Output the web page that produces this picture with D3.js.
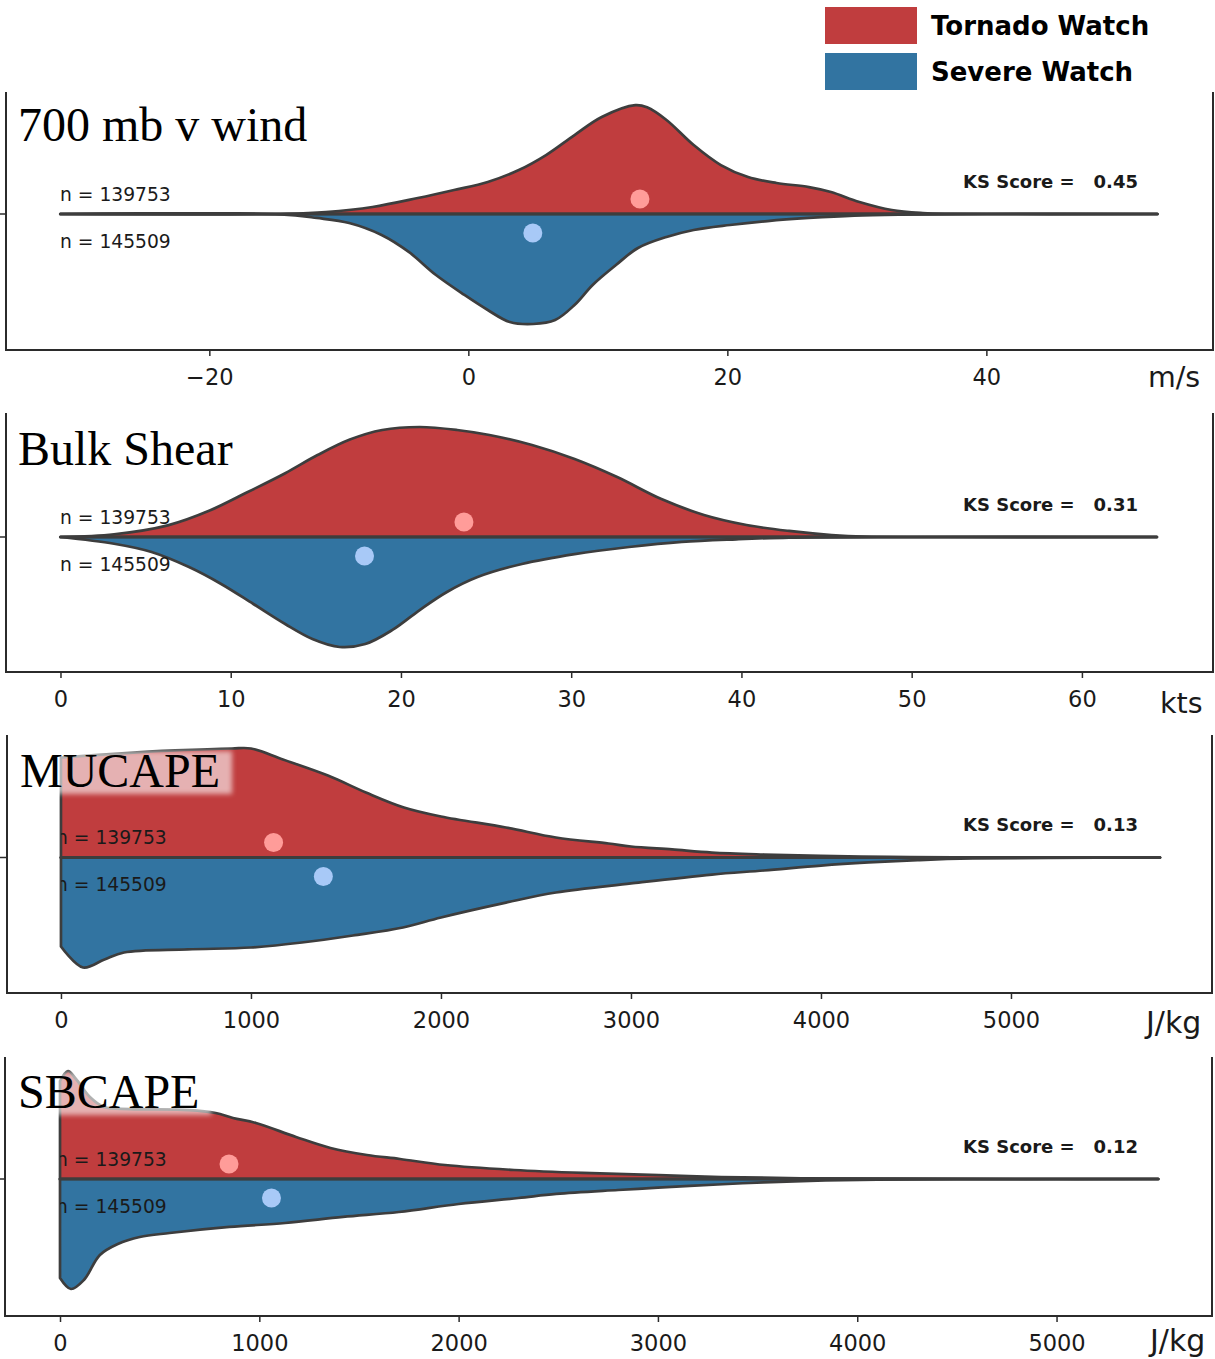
<!DOCTYPE html>
<html>
<head>
<meta charset="utf-8">
<script src="https://cdn.jsdelivr.net/npm/d3@7"></script>
<style>
  body { margin: 0; background: #fff; }
  svg { display: block; }
  text { font-family: "DejaVu Sans", sans-serif; fill: #1a1a1a; }
</style>
</head>
<body>
<svg id="chart" width="1215" height="1359"></svg>
<script>
// ---- values ----
var panelTitles = ['700 mb v wind', 'Bulk Shear', 'MUCAPE', 'SBCAPE'];
var unitLabels = ['m/s', 'kts', 'J/kg', 'J/kg'];
var groupNames = ['Tornado Watch', 'Severe Watch'];
var groupCounts = [139753, 145509];
var ksScores = ['0.45', '0.31', '0.13', '0.12'];
var tickValues = [
    [-20, 0, 20, 40],
    [0, 10, 20, 30, 40, 50, 60],
    [0, 1000, 2000, 3000, 4000, 5000],
    [0, 1000, 2000, 3000, 4000, 5000]
];
var axisLimits = [[-35.7, 57.5], [-3.2, 67.7], [-284, 6058], [-276, 5780]];
var tornadoMeans = [13.25, 23.7, 1119, 848];
var severeMeans = [4.98, 17.86, 1381, 1061];

// relative density (percent of the panel's widest point), [value, density]
var windTornado = [[-31.5,0],[-14,0.2],[-11,1.8],[-7.4,6.4],[-3.9,14.5],[-1.1,21.8],[1.5,29.1],[3.9,40],
    [6,53.6],[8.2,71.8],[10.3,88.2],[12.9,99],[13.8,97],[15.3,85.5],[17.4,62.7],[19.5,44.5],[21.6,33.6],
    [23.8,28.2],[26.3,24.5],[28,20],[30.2,10.9],[32.7,3.6],[35.1,0.9],[37,0.2],[53.2,0]];
var windSevere = [[-31.5,0],[-14.5,0.3],[-11.7,3.6],[-9.2,8.2],[-6.7,19.1],[-4.6,34.5],[-2.5,55.5],[-0.3,73.6],
    [1.5,87.3],[3.2,98.2],[5,100],[6.7,96.4],[8.2,82.7],[9.6,64.5],[11.4,46.4],[13.1,30.9],[15.3,20.9],
    [17.4,14.5],[20.2,10],[23.1,6.4],[26.3,3.6],[29.8,1.4],[33.4,0.5],[40,0],[53.2,0]];
var shearTornado = [[0,0],[3.15,2.5],[6.3,10.6],[8.8,24.3],[11,40.9],[13.2,58],[15.1,74.5],[17,88.6],
    [18.9,97.3],[21.1,100],[23.3,97.3],[25.2,92.7],[27.7,83.6],[30.2,70.9],[32.7,54.5],[35.3,34.5],
    [37.8,20],[40.3,10.9],[42.8,5.5],[45.3,1.8],[47.2,0.3],[52,0],[64.4,0]];
var shearSevere = [[0,0],[3.15,6.1],[5.35,13.6],[7.55,27.3],[9.44,42.7],[11.33,60.9],[13.2,79.1],[14.8,92.7],
    [16.4,100],[17.9,97.3],[19.5,84.5],[21.1,66.4],[22.7,50],[24.5,36.4],[27.1,24.5],[30.2,15.5],
    [33.4,9.1],[36.5,4.5],[39.7,2.1],[42.8,0.5],[48,0],[64.4,0]];
var mucapeTornado = [[0,90.9],[300,94.5],[600,97.3],[900,99.1],[1000,99.1],[1168,89.1],[1405,74.5],[1605,59.1],
    [1805,45.5],[2000,37.3],[2342,27.3],[2605,18.2],[2882,12.7],[3000,10],[3216,7.3],[3426,4.5],
    [3700,2.7],[4000,1.4],[4358,0.5],[4700,0.1],[5784,0]];
var mucapeSevere = [[0,80.9],[116,100],[229,92.7],[332,86.4],[666,83.6],[1000,81.8],[1268,77.3],[1537,70.9],
    [1800,63.6],[2000,54.5],[2342,41],[2605,31.8],[3000,23.6],[3426,15.5],[3700,11.8],[4000,7.3],
    [4250,4.5],[4520,2.3],[4800,0.9],[5200,0.3],[5784,0]];
var sbcapeTornado = [[0,89],[40,98.2],[80,90.9],[150,74.5],[220,65.5],[350,63.6],[650,62.7],[781,60],
    [868,55.5],[983,50.9],[1184,38.2],[1357,28.2],[1540,21.8],[1706,18.2],[1932,12.7],[2278,8.2],
    [2624,5.5],[3005,3.6],[3317,1.8],[3718,0.7],[4215,0.3],[4800,0],[5510,0]];
var sbcapeSevere = [[0,90],[55,100],[120,91.8],[200,69.1],[290,59.1],[400,52.7],[550,49.1],[850,43.6],
    [1130,40],[1420,34.5],[1700,30],[2000,22.7],[2300,17.3],[2490,13.6],[2800,10],[3000,7.9],
    [3300,5],[3530,3],[3800,1.4],[4100,0.5],[4500,0.2],[5000,0],[5510,0]];

var tornadoDensity = [windTornado, shearTornado, mucapeTornado, sbcapeTornado];
var severeDensity = [windSevere, shearSevere, mucapeSevere, sbcapeSevere];

// ---- layout ----
var colors = ['#c03d3e', '#3274a1'];
var meanColors = ['#ff9c99', '#a8c9f7'];
var edge = '#3d3d3d';

// each panel was cropped a little differently in the original figure
var panels = [
    {left: 6, right: 1213, top: 92,  bottom: 350,  center: 214,   titleX: 18, titleY: 141,  nX: 60, nClip: 0,  unitX: 1148, unitDy: 27, unitSize: 28.5},
    {left: 6, right: 1213, top: 413, bottom: 672,  center: 537,   titleX: 18, titleY: 465,  nX: 60, nClip: 0,  unitX: 1160, unitDy: 31, unitSize: 28.5},
    {left: 7, right: 1212, top: 735, bottom: 993,  center: 857.5, titleX: 20, titleY: 787,  nX: 56, nClip: 61, unitX: 1146, unitDy: 29, unitSize: 30},
    {left: 5, right: 1212, top: 1057, bottom: 1316, center: 1179, titleX: 18, titleY: 1108, nX: 56, nClip: 60, unitX: 1150, unitDy: 24, unitSize: 30}
];

var svg = d3.select('#chart');

var defs = svg.append('defs');
defs.append('filter')
        .attr('id', 'soft')
        .attr('x', '-20%').attr('y', '-30%')
        .attr('width', '140%').attr('height', '160%')
    .append('feGaussianBlur')
        .attr('stdDeviation', 2.5);

var halfWidth = d3.scaleLinear().domain([0, 100]).range([0, 110]);
var smooth = d3.curveCatmullRom.alpha(0.5);

panels.forEach(function (p, i) {
    var g = svg.append('g');

    var x = d3.scaleLinear()
              .domain(axisLimits[i])
              .range([p.left, p.right]);

    // split violin halves (density never drawn across the centre line)
    var upper = d3.area()
        .x(function (d) { return x(d[0]); })
        .y0(p.center)
        .y1(function (d) { return p.center - halfWidth(d[1]); })
        .curve(smooth);
    var lower = d3.area()
        .x(function (d) { return x(d[0]); })
        .y0(p.center)
        .y1(function (d) { return p.center + halfWidth(d[1]); })
        .curve(smooth);

    var clipUp = 'clip-up-' + i, clipDown = 'clip-down-' + i, clipN = 'clip-n-' + i;
    defs.append('clipPath').attr('id', clipUp)
        .append('rect').attr('x', 0).attr('y', p.top - 40)
        .attr('width', 1215).attr('height', p.center - p.top + 42);
    defs.append('clipPath').attr('id', clipDown)
        .append('rect').attr('x', 0).attr('y', p.center - 2)
        .attr('width', 1215).attr('height', p.bottom - p.center);
    defs.append('clipPath').attr('id', clipN)
        .append('rect').attr('x', p.nClip).attr('y', p.top)
        .attr('width', 400).attr('height', p.bottom - p.top);

    g.append('path')
        .attr('d', upper(tornadoDensity[i]))
        .attr('clip-path', 'url(#' + clipUp + ')')
        .attr('fill', colors[0])
        .attr('stroke', edge)
        .attr('stroke-width', 2.7)
        .attr('stroke-linejoin', 'round');
    g.append('path')
        .attr('d', lower(severeDensity[i]))
        .attr('clip-path', 'url(#' + clipDown + ')')
        .attr('fill', colors[1])
        .attr('stroke', edge)
        .attr('stroke-width', 2.7)
        .attr('stroke-linejoin', 'round');
    // centre line shared by both halves
    g.append('line')
        .attr('x1', x(tornadoDensity[i][0][0]))
        .attr('x2', x(tornadoDensity[i][tornadoDensity[i].length - 1][0]))
        .attr('y1', p.center).attr('y2', p.center)
        .attr('stroke', edge)
        .attr('stroke-width', 3.2)
        .attr('stroke-linecap', 'round');

    // means
    g.append('circle')
        .attr('cx', x(tornadoMeans[i]))
        .attr('cy', p.center - 15)
        .attr('r', 9.5)
        .attr('fill', meanColors[0]);
    g.append('circle')
        .attr('cx', x(severeMeans[i]))
        .attr('cy', p.center + 19)
        .attr('r', 9.5)
        .attr('fill', meanColors[1]);

    // spines
    g.append('path')
        .attr('d', 'M' + p.left + ',' + p.top + 'V' + p.bottom + 'H' + p.right + 'V' + p.top)
        .attr('fill', 'none')
        .attr('stroke', '#2b2b2b')
        .attr('stroke-width', 2);
    g.append('line')
        .attr('x1', p.left - 7).attr('x2', p.left)
        .attr('y1', p.center).attr('y2', p.center)
        .attr('stroke', '#2b2b2b')
        .attr('stroke-width', 1.5);

    // x axis
    var axis = g.append('g')
        .attr('transform', 'translate(0,' + p.bottom + ')')
        .call(d3.axisBottom(x)
            .tickValues(tickValues[i])
            .tickSize(6)
            .tickPadding(13)
            .tickFormat(d3.format('d')));
    axis.select('.domain').remove();
    axis.selectAll('line').attr('stroke', '#2b2b2b').attr('stroke-width', 1.5);
    axis.selectAll('text')
        .attr('font-family', '"DejaVu Sans", sans-serif')
        .attr('font-size', 22.5)
        .attr('fill', '#222');

    g.append('text')
        .attr('x', p.unitX)
        .attr('y', p.bottom + p.unitDy)
        .attr('dominant-baseline', 'central')
        .attr('font-size', p.unitSize)
        .text(unitLabels[i]);

    // sample sizes
    var nLabels = g.append('g').attr('clip-path', 'url(#' + clipN + ')');
    nLabels.append('text')
        .attr('x', p.nX)
        .attr('y', p.center - 20)
        .attr('dominant-baseline', 'central')
        .attr('font-size', 18.7)
        .text('n = ' + groupCounts[0]);
    nLabels.append('text')
        .attr('x', p.nX)
        .attr('y', p.center + 27)
        .attr('dominant-baseline', 'central')
        .attr('font-size', 18.7)
        .text('n = ' + groupCounts[1]);

    // KS score
    g.append('text')
        .attr('x', 963)
        .attr('y', p.center - 33)
        .attr('dominant-baseline', 'central')
        .attr('font-size', 18)
        .attr('font-weight', 'bold')
        .text('KS Score =');
    g.append('text')
        .attr('x', 1138)
        .attr('y', p.center - 33)
        .attr('dominant-baseline', 'central')
        .attr('text-anchor', 'end')
        .attr('font-size', 18)
        .attr('font-weight', 'bold')
        .text(ksScores[i]);

    // title with a soft white backing box
    var box = g.append('rect');
    var title = g.append('text')
        .attr('x', p.titleX)
        .attr('y', p.titleY)
        .style('font-family', '"Liberation Serif", "Times New Roman", serif')
        .attr('font-size', 48)
        .style('fill', '#000')
        .text(panelTitles[i]);
    var bb = title.node().getBBox();
    box.attr('x', bb.x - 4)
        .attr('y', p.titleY - 36)
        .attr('width', bb.width + 16)
        .attr('height', 43)
        .attr('fill', '#fff')
        .attr('opacity', 0.6)
        .attr('filter', 'url(#soft)');
});

// legend
var legend = svg.append('g');
groupNames.forEach(function (name, i) {
    legend.append('rect')
        .attr('x', 825)
        .attr('y', 7 + i * 46)
        .attr('width', 92)
        .attr('height', 37)
        .attr('fill', colors[i]);
    legend.append('text')
        .attr('x', 931)
        .attr('y', 26 + i * 46)
        .attr('dominant-baseline', 'central')
        .attr('font-size', 26)
        .attr('font-weight', 'bold')
        .style('fill', '#000')
        .text(name);
});
</script>
</body>
</html>
